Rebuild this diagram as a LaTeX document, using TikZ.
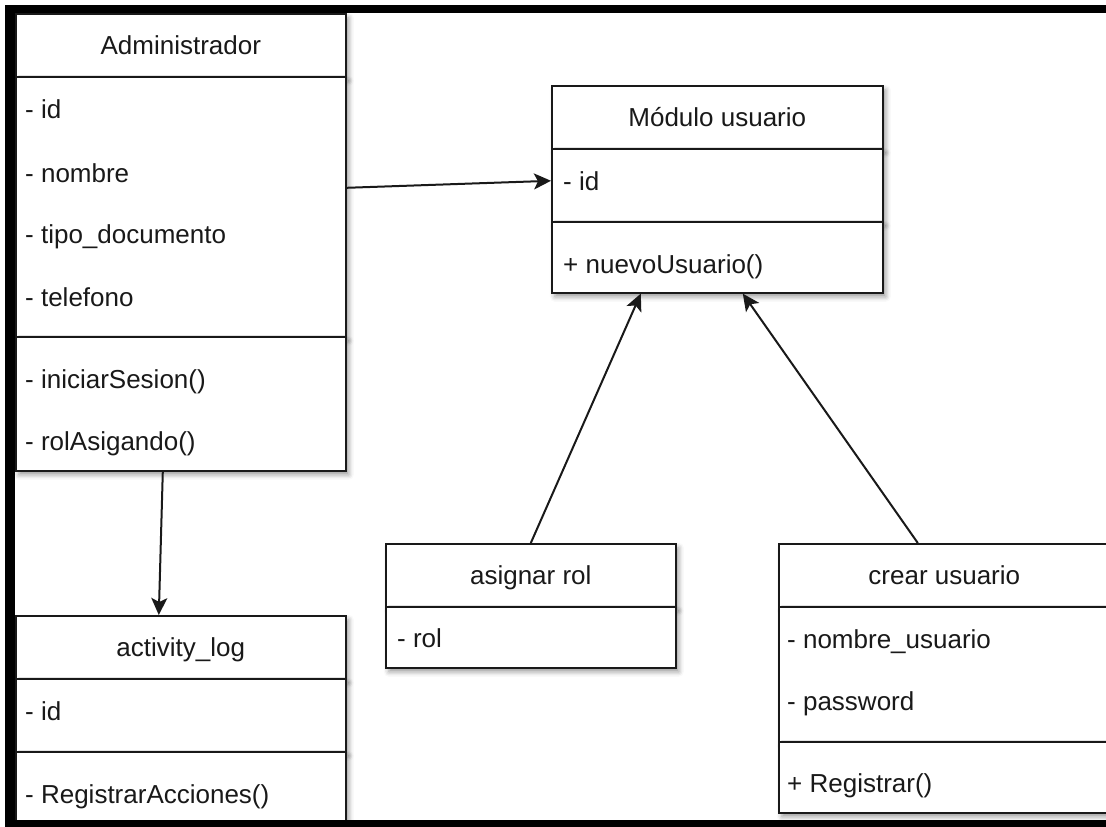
\documentclass[tikz,border=0pt]{standalone}
\usepackage{fontspec}
\setmainfont{Liberation Sans}
\usetikzlibrary{arrows.meta,shadows.blur}

\tikzset{
  cbox/.style={draw=black!90, line width=1.6pt, fill=white, rectangle,
    anchor=north west, inner sep=0pt,
    blur shadow={shadow xshift=3pt, shadow yshift=-4pt, shadow blur radius=5pt, shadow opacity=40}},
  chead/.style={cbox, text=black!90, font=\fontsize{26}{30}\selectfont,
    text height=19pt, text depth=0pt},
  member/.style={anchor=base west, inner sep=0pt, text=black!90,
    font=\fontsize{26}{30}\selectfont},
  link/.style={draw=black!90, line width=2pt,
    -{Stealth[length=17pt, width=16pt, inset=4pt]}},
  frame/.style={fill=black, draw=none}
}

\begin{document}
\begin{tikzpicture}[x=1pt, y=-1pt]
\useasboundingbox (0,0) rectangle (1106,827);

% Administrador
\node[chead, minimum width=330pt, minimum height=63pt] (admH) at (15,13) {Administrador};
\node[cbox, minimum width=330pt, minimum height=260pt] (admA) at (15,76) {};
\node[cbox, minimum width=330pt, minimum height=134pt] (admM) at (15,336) {};
\node[member] (adm1) at (25,118) {- id};
\node[member] (adm2) at (25,182) {- nombre};
\node[member] (adm3) at (25,243) {- tipo\_documento};
\node[member] (adm4) at (25,306) {- telefono};
\node[member] (adm5) at (25,388) {- iniciarSesion()};
\node[member] (adm6) at (25,450) {- rolAsigando()};

% activity_log
\node[chead, minimum width=330pt, minimum height=63pt] (actH) at (15,615) {activity\_log};
\node[cbox, minimum width=330pt, minimum height=73pt] (actA) at (15,678) {};
\node[cbox, minimum width=330pt, minimum height=70pt] (actM) at (15,751) {};
\node[member] (act1) at (25,720) {- id};
\node[member] (act2) at (25,803) {- RegistrarAcciones()};

% Modulo usuario
\node[chead, minimum width=331pt, minimum height=63pt] (modH) at (551,85) {Módulo usuario};
\node[cbox, minimum width=331pt, minimum height=73pt] (modA) at (551,148) {};
\node[cbox, minimum width=331pt, minimum height=71pt] (modM) at (551,221) {};
\node[member] (mod1) at (563,190) {- id};
\node[member] (mod2) at (563,273) {+ nuevoUsuario()};

% asignar rol
\node[chead, minimum width=290pt, minimum height=63pt] (asgH) at (385,543) {asignar rol};
\node[cbox, minimum width=290pt, minimum height=61pt] (asgA) at (385,606) {};
\node[member] (asg1) at (397,647) {- rol};

% crear usuario
\node[chead, minimum width=331pt, minimum height=63pt] (crH) at (778,543) {crear usuario};
\node[cbox, minimum width=331pt, minimum height=135pt] (crA) at (778,606) {};
\node[cbox, minimum width=331pt, minimum height=71pt] (crM) at (778,741) {};
\node[member] (cr1) at (787,648) {- nombre\_usuario};
\node[member] (cr2) at (787,710) {- password};
\node[member] (cr3) at (787,792) {+ Registrar()};

% associations
\draw[link] ([yshift=19pt]admA.east) -- ([yshift=4.5pt]modA.west);
\draw[link] ([xshift=-18pt]admM.south) -- ([xshift=-22pt]actH.north);
\draw[link] (asgH.north) -- ([xshift=-76.5pt]modM.south);
\draw[link] ([xshift=-26.5pt]crH.north) -- ([xshift=25.5pt]modM.south);

% outer frame
\fill[frame] (5,5) rectangle (1106,13);
\fill[frame] (5,5) rectangle (15,827);
\fill[frame] (5,820) rectangle (1106,827);
\end{tikzpicture}
\end{document}
